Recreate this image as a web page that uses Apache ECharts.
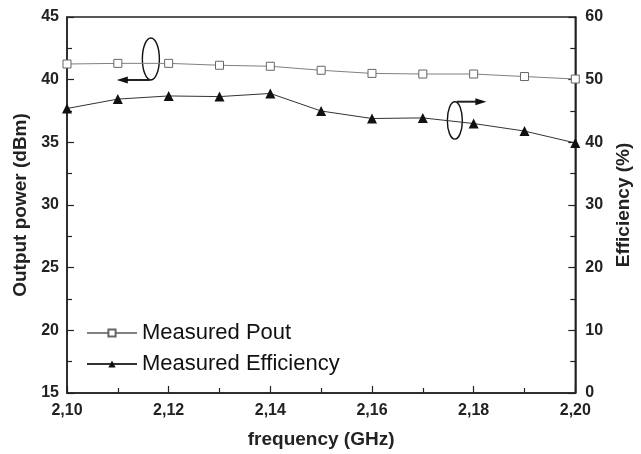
<!DOCTYPE html>
<html>
<head>
<meta charset="utf-8">
<script src="https://cdn.jsdelivr.net/npm/echarts@6/dist/echarts.min.js"></script>
<style>
  html, body { margin: 0; padding: 0; background: #fff; }
  #chart { width: 641px; height: 454px; }
</style>
</head>
<body>
<div id="chart"></div>
<script>
// frequency points (GHz)
var freq = [2.10, 2.11, 2.12, 2.13, 2.14, 2.15, 2.16, 2.17, 2.18, 2.19, 2.20];
// output power (dBm), left axis
var pout = [41.25, 41.3, 41.3, 41.15, 41.07, 40.75, 40.5, 40.45, 40.45, 40.25, 40.05];
// efficiency (%), right axis
var eff = [45.4, 46.9, 47.4, 47.3, 47.8, 45.0, 43.8, 43.9, 43.0, 41.8, 39.9];

function pairs(xs, ys) {
    var arr = [];
    for (var i = 0; i < xs.length; i++) {
        arr.push([xs[i], ys[i]]);
    }
    return arr;
}

var font = 'Liberation Sans, Arial, sans-serif';
var axisCol = '#222';

var myChart = echarts.init(document.getElementById('chart'));

var option = {
    animation: false,
    backgroundColor: '#fff',
    grid: {
        left: 67, right: 65, top: 17, bottom: 61,
        show: true,
        borderColor: axisCol,
        borderWidth: 1.5
    },
    legend: {
        left: 81,
        top: 317,
        orient: 'vertical',
        itemWidth: 50,
        itemHeight: 9,
        itemGap: 9,
        textStyle: { fontFamily: font, fontSize: 22, color: '#111' },
        data: ['Measured Pout', 'Measured Efficiency']
    },
    xAxis: {
        type: 'value',
        min: 2.10,
        max: 2.20,
        interval: 0.02,
        name: 'frequency (GHz)',
        nameLocation: 'middle',
        nameGap: 37,
        nameTextStyle: { fontFamily: font, fontSize: 19, fontWeight: 'bold', color: '#222' },
        axisLine: { lineStyle: { color: axisCol, width: 1.5 } },
        axisTick: { inside: true, length: 7, lineStyle: { color: axisCol, width: 1.2 } },
        minorTick: { show: true, splitNumber: 2, length: 5, lineStyle: { color: axisCol, width: 1.2 } },
        splitLine: { show: false },
        axisLabel: {
            margin: 10,
            fontFamily: font, fontSize: 16, fontWeight: 'bold', color: '#222',
            formatter: function (v) { return v.toFixed(2).replace('.', ','); }
        }
    },
    yAxis: [{
        type: 'value',
        min: 15,
        max: 45,
        interval: 5,
        name: 'Output power (dBm)',
        nameLocation: 'middle',
        nameRotate: 90,
        nameGap: 28,
        nameTextStyle: { fontFamily: font, fontSize: 19, fontWeight: 'bold', color: '#222' },
        axisLine: { show: true, lineStyle: { color: axisCol, width: 1.5 } },
        axisTick: { inside: true, length: 7, lineStyle: { color: axisCol, width: 1.2 } },
        minorTick: { show: true, splitNumber: 2, length: 5, lineStyle: { color: axisCol, width: 1.2 } },
        splitLine: { show: false },
        axisLabel: { margin: 8, fontFamily: font, fontSize: 16, fontWeight: 'bold', color: '#222' }
    }, {
        type: 'value',
        position: 'right',
        min: 0,
        max: 60,
        interval: 10,
        name: 'Efficiency (%)',
        nameLocation: 'middle',
        nameRotate: 90,
        nameGap: 38,
        nameTextStyle: { fontFamily: font, fontSize: 19, fontWeight: 'bold', color: '#222' },
        axisLine: { show: true, lineStyle: { color: axisCol, width: 1.5 } },
        axisTick: { inside: true, length: 7, lineStyle: { color: axisCol, width: 1.2 } },
        minorTick: { show: true, splitNumber: 2, length: 5, lineStyle: { color: axisCol, width: 1.2 } },
        splitLine: { show: false },
        axisLabel: { margin: 10, fontFamily: font, fontSize: 16, fontWeight: 'bold', color: '#222' }
    }],
    series: [{
        name: 'Measured Pout',
        type: 'line',
        yAxisIndex: 0,
        data: pairs(freq, pout),
        symbol: 'rect',
        symbolSize: 8,
        lineStyle: { color: '#808080', width: 1 },
        itemStyle: { color: '#fff', borderColor: '#666', borderWidth: 1 }
    }, {
        name: 'Measured Efficiency',
        type: 'line',
        yAxisIndex: 1,
        data: pairs(freq, eff),
        symbol: 'triangle',
        symbolSize: 10,
        lineStyle: { color: '#333', width: 1 },
        itemStyle: { color: '#111', borderColor: '#111', borderWidth: 0 }
    }]
};

myChart.setOption(option);

// annotation ellipses + arrows, placed in data space
function px(x, y, axis) {
    return myChart.convertToPixel({ xAxisIndex: 0, yAxisIndex: axis }, [x, y]);
}
var c1 = px(2.1165, 41.65, 0);
var a1 = px(2.1098, 39.9, 0);
var c2 = px(2.1763, 43.5, 1);
var a2 = px(2.1825, 46.3, 1);

function ellipse(c, rx, ry) {
    return {
        type: 'ellipse',
        shape: { cx: c[0], cy: c[1], rx: rx, ry: ry },
        style: { fill: 'none', stroke: '#111', lineWidth: 1.4 }
    };
}

function arrow(x1, y1, x2, y2) {
    var dir = x2 > x1 ? 1 : -1;
    return [{
        type: 'line',
        shape: { x1: x1, y1: y1, x2: x2 - dir * 8, y2: y2 },
        style: { stroke: '#222', lineWidth: 2 }
    }, {
        type: 'polygon',
        shape: { points: [[x2, y2], [x2 - dir * 11, y2 - 3.5], [x2 - dir * 11, y2 + 3.5]] },
        style: { fill: '#111' }
    }];
}

var g = [ellipse(c1, 8.5, 21), ellipse(c2, 7.5, 18.7)];
g = g.concat(arrow(c1[0] - 1, c1[1] + 21, a1[0], c1[1] + 21));
g = g.concat(arrow(c2[0] + 2, c2[1] - 18.7, a2[0], c2[1] - 18.7));
myChart.setOption({ graphic: g });
</script>
</body>
</html>
